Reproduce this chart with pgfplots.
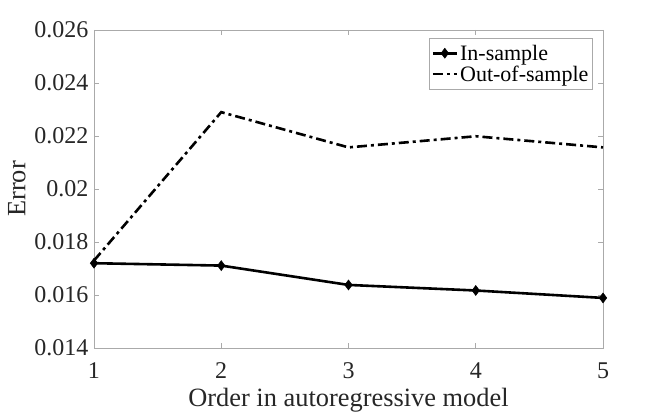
\documentclass[border=0pt]{standalone}
\usepackage{fontspec}
\setmainfont{Liberation Serif}
\usepackage{pgfplots}
\pgfplotsset{compat=1.18}
\definecolor{axgray}{RGB}{170,170,170}
\definecolor{txt}{RGB}{38,38,38}
\begin{document}
\begin{tikzpicture}
\useasboundingbox (0,0) rectangle (664pt,413pt);
\begin{axis}[
  at={(94pt,65pt)}, anchor=south west,
  scale only axis, width=509pt, height=318pt,
  xmin=1, xmax=5, ymin=0.014, ymax=0.026,
  xtick={1,2,3,4,5}, xticklabels={1,2,3,4,5},
  ytick={0.014,0.016,0.018,0.02,0.022,0.024,0.026},
  yticklabels={0.014,0.016,0.018,0.02,0.022,0.024,0.026},
  scaled y ticks=false,
  tick align=inside, major tick length=5pt,
  axis line style={axgray, line width=0.8pt},
  every tick/.style={axgray, line width=0.8pt},
  tick label style={font=\fontsize{24}{28}\selectfont, text=txt},
  yticklabel style={xshift=-2pt},
  xticklabel style={yshift=-11pt},
  label style={font=\fontsize{26.4}{30}\selectfont, text=txt},
  xlabel={Order in autoregressive model},
  ylabel={Error},
  xlabel style={yshift=-3pt},
  ylabel style={yshift=2pt},
  legend style={at={(rel axis cs:0.980,0.975)}, anchor=north east,
    draw=axgray, line width=0.8pt, font=\fontsize{22}{26}\selectfont, text=black,
    inner xsep=2pt, inner ysep=4.5pt, row sep=0pt, cells={anchor=west}},
  legend image code/.code={\draw[mark repeat=2,mark phase=2,#1] plot coordinates {(0pt,0pt) (12pt,0pt) (24pt,0pt)};},
]
\addplot[black, line width=2.6pt, mark=diamond*, mark size=5pt, mark options={solid, line width=0.5pt}]
  coordinates {(1,0.01720) (2,0.01711) (3,0.01638) (4,0.01617) (5,0.01589)};
\addlegendentry{In-sample}
\addplot[black, line width=2.6pt, dash pattern=on 10pt off 4pt on 3pt off 4pt]
  coordinates {(1,0.01730) (2,0.02290) (3,0.02157) (4,0.02199) (5,0.02157)};
\addlegendentry{Out-of-sample}
\end{axis}
\end{tikzpicture}
\end{document}
